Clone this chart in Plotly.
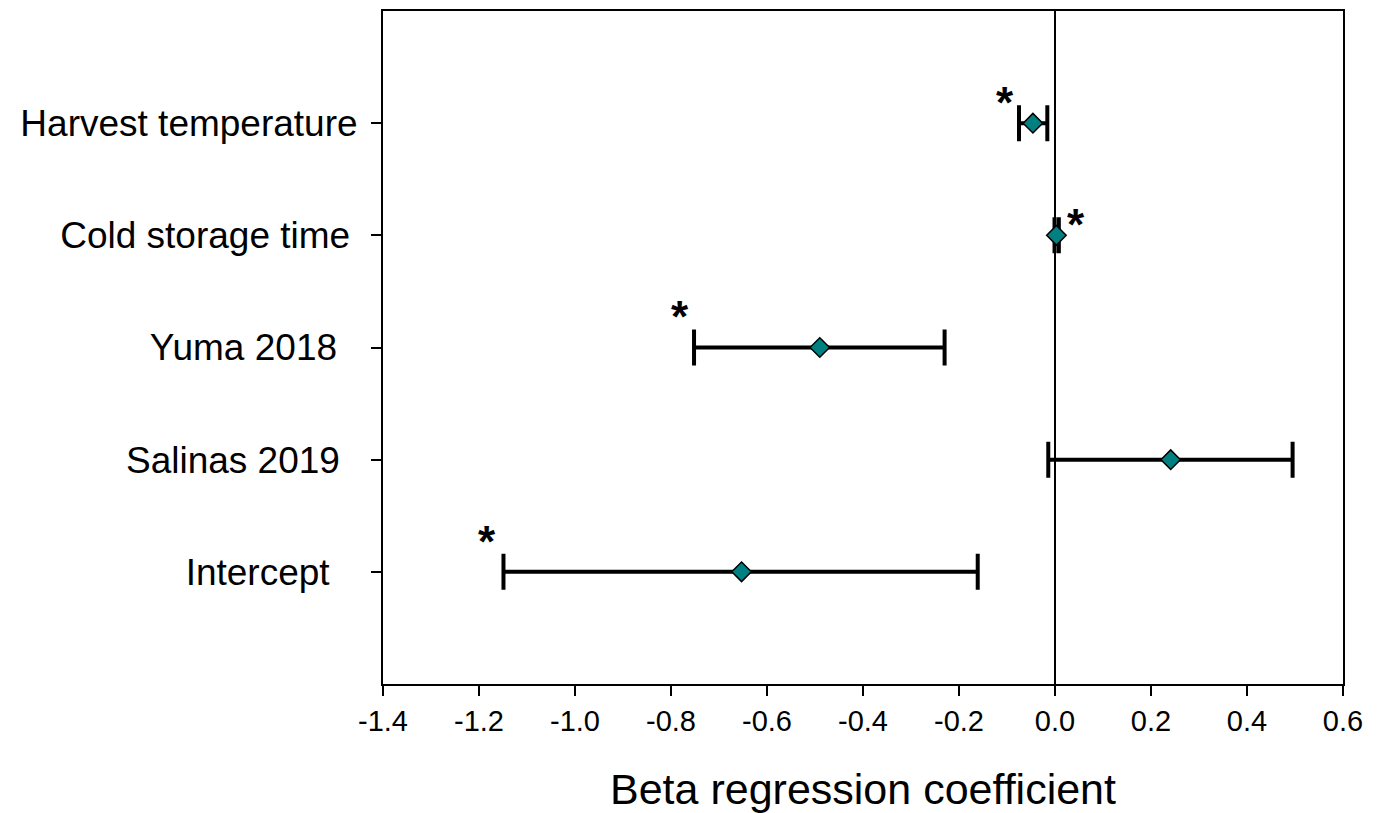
import plotly.graph_objects as go

# ---- data ----
categories = ["Harvest temperature", "Cold storage time", "Yuma 2018", "Salinas 2019", "Intercept"]
# trailing padding reproduces the uneven right alignment of the original labels
label_pad = ["", "\u2009", "\u00a0\u00a0", "\u00a0\u2009", "\u00a0\u00a0\u2009"]
estimate = [-0.046, 0.003, -0.490, 0.241, -0.653]
lower = [-0.075, -0.001, -0.752, -0.014, -1.149]
upper = [-0.016, 0.008, -0.230, 0.495, -0.161]
significant = [True, True, True, False, True]
# asterisk positions (x in data units, vertical offset in px)
star_x = [-0.105, 0.044, -0.782, None, -1.183]
star_shift = [21, 11, 31, 0, 30]
x_ticks = [-1.4, -1.2, -1.0, -0.8, -0.6, -0.4, -0.2, 0.0, 0.2, 0.4, 0.6]
x_ticktext = ["-1.4", "-1.2", "-1.0", "-0.8", "-0.6", "-0.4", "-0.2", "0.0", "0.2", "0.4", "0.6"]

labels = [c + p for c, p in zip(categories, label_pad)]
err_plus = [u - e for u, e in zip(upper, estimate)]
err_minus = [e - l for e, l in zip(estimate, lower)]

fig = go.Figure()
fig.add_trace(go.Scatter(
    x=estimate, y=labels, mode="markers",
    marker=dict(symbol="diamond", size=15, color="#008080",
                line=dict(color="black", width=1.5)),
    error_x=dict(type="data", symmetric=False, array=err_plus, arrayminus=err_minus,
                 color="black", thickness=4, width=18),
    showlegend=False,
))

for lab, sx, sh, sig in zip(labels, star_x, star_shift, significant):
    if sig and sx is not None:
        fig.add_annotation(x=sx, y=lab, yshift=sh, text="<b>*</b>", showarrow=False,
                           font=dict(family="Liberation Sans, Arial", size=44, color="black"))

axis_font = dict(family="Liberation Sans, Arial", color="black")
fig.update_layout(
    width=1388, height=805,
    margin=dict(l=375, r=53, t=1, b=129),
    paper_bgcolor="white", plot_bgcolor="white",
    xaxis=dict(
        range=[-1.4, 0.6], tickvals=x_ticks, ticktext=x_ticktext,
        ticks="outside", ticklen=10, tickwidth=2, tickcolor="black",
        showline=True, linecolor="black", linewidth=2, mirror=True,
        showgrid=False, zeroline=True, zerolinecolor="black", zerolinewidth=1.5,
        tickfont=dict(size=29, **axis_font),
        title=dict(text="Beta regression coefficient", font=dict(size=43, **axis_font), standoff=40),
    ),
    yaxis=dict(
        categoryorder="array", categoryarray=labels,
        range=[5, -1],
        ticks="outside", ticklen=10, tickwidth=2, tickcolor="black",
        showline=True, linecolor="black", linewidth=2, mirror=True,
        showgrid=False, zeroline=False,
        tickfont=dict(size=37, **axis_font),
        ticklabelstandoff=6,
    ),
)

fig.write_html("out.html")
